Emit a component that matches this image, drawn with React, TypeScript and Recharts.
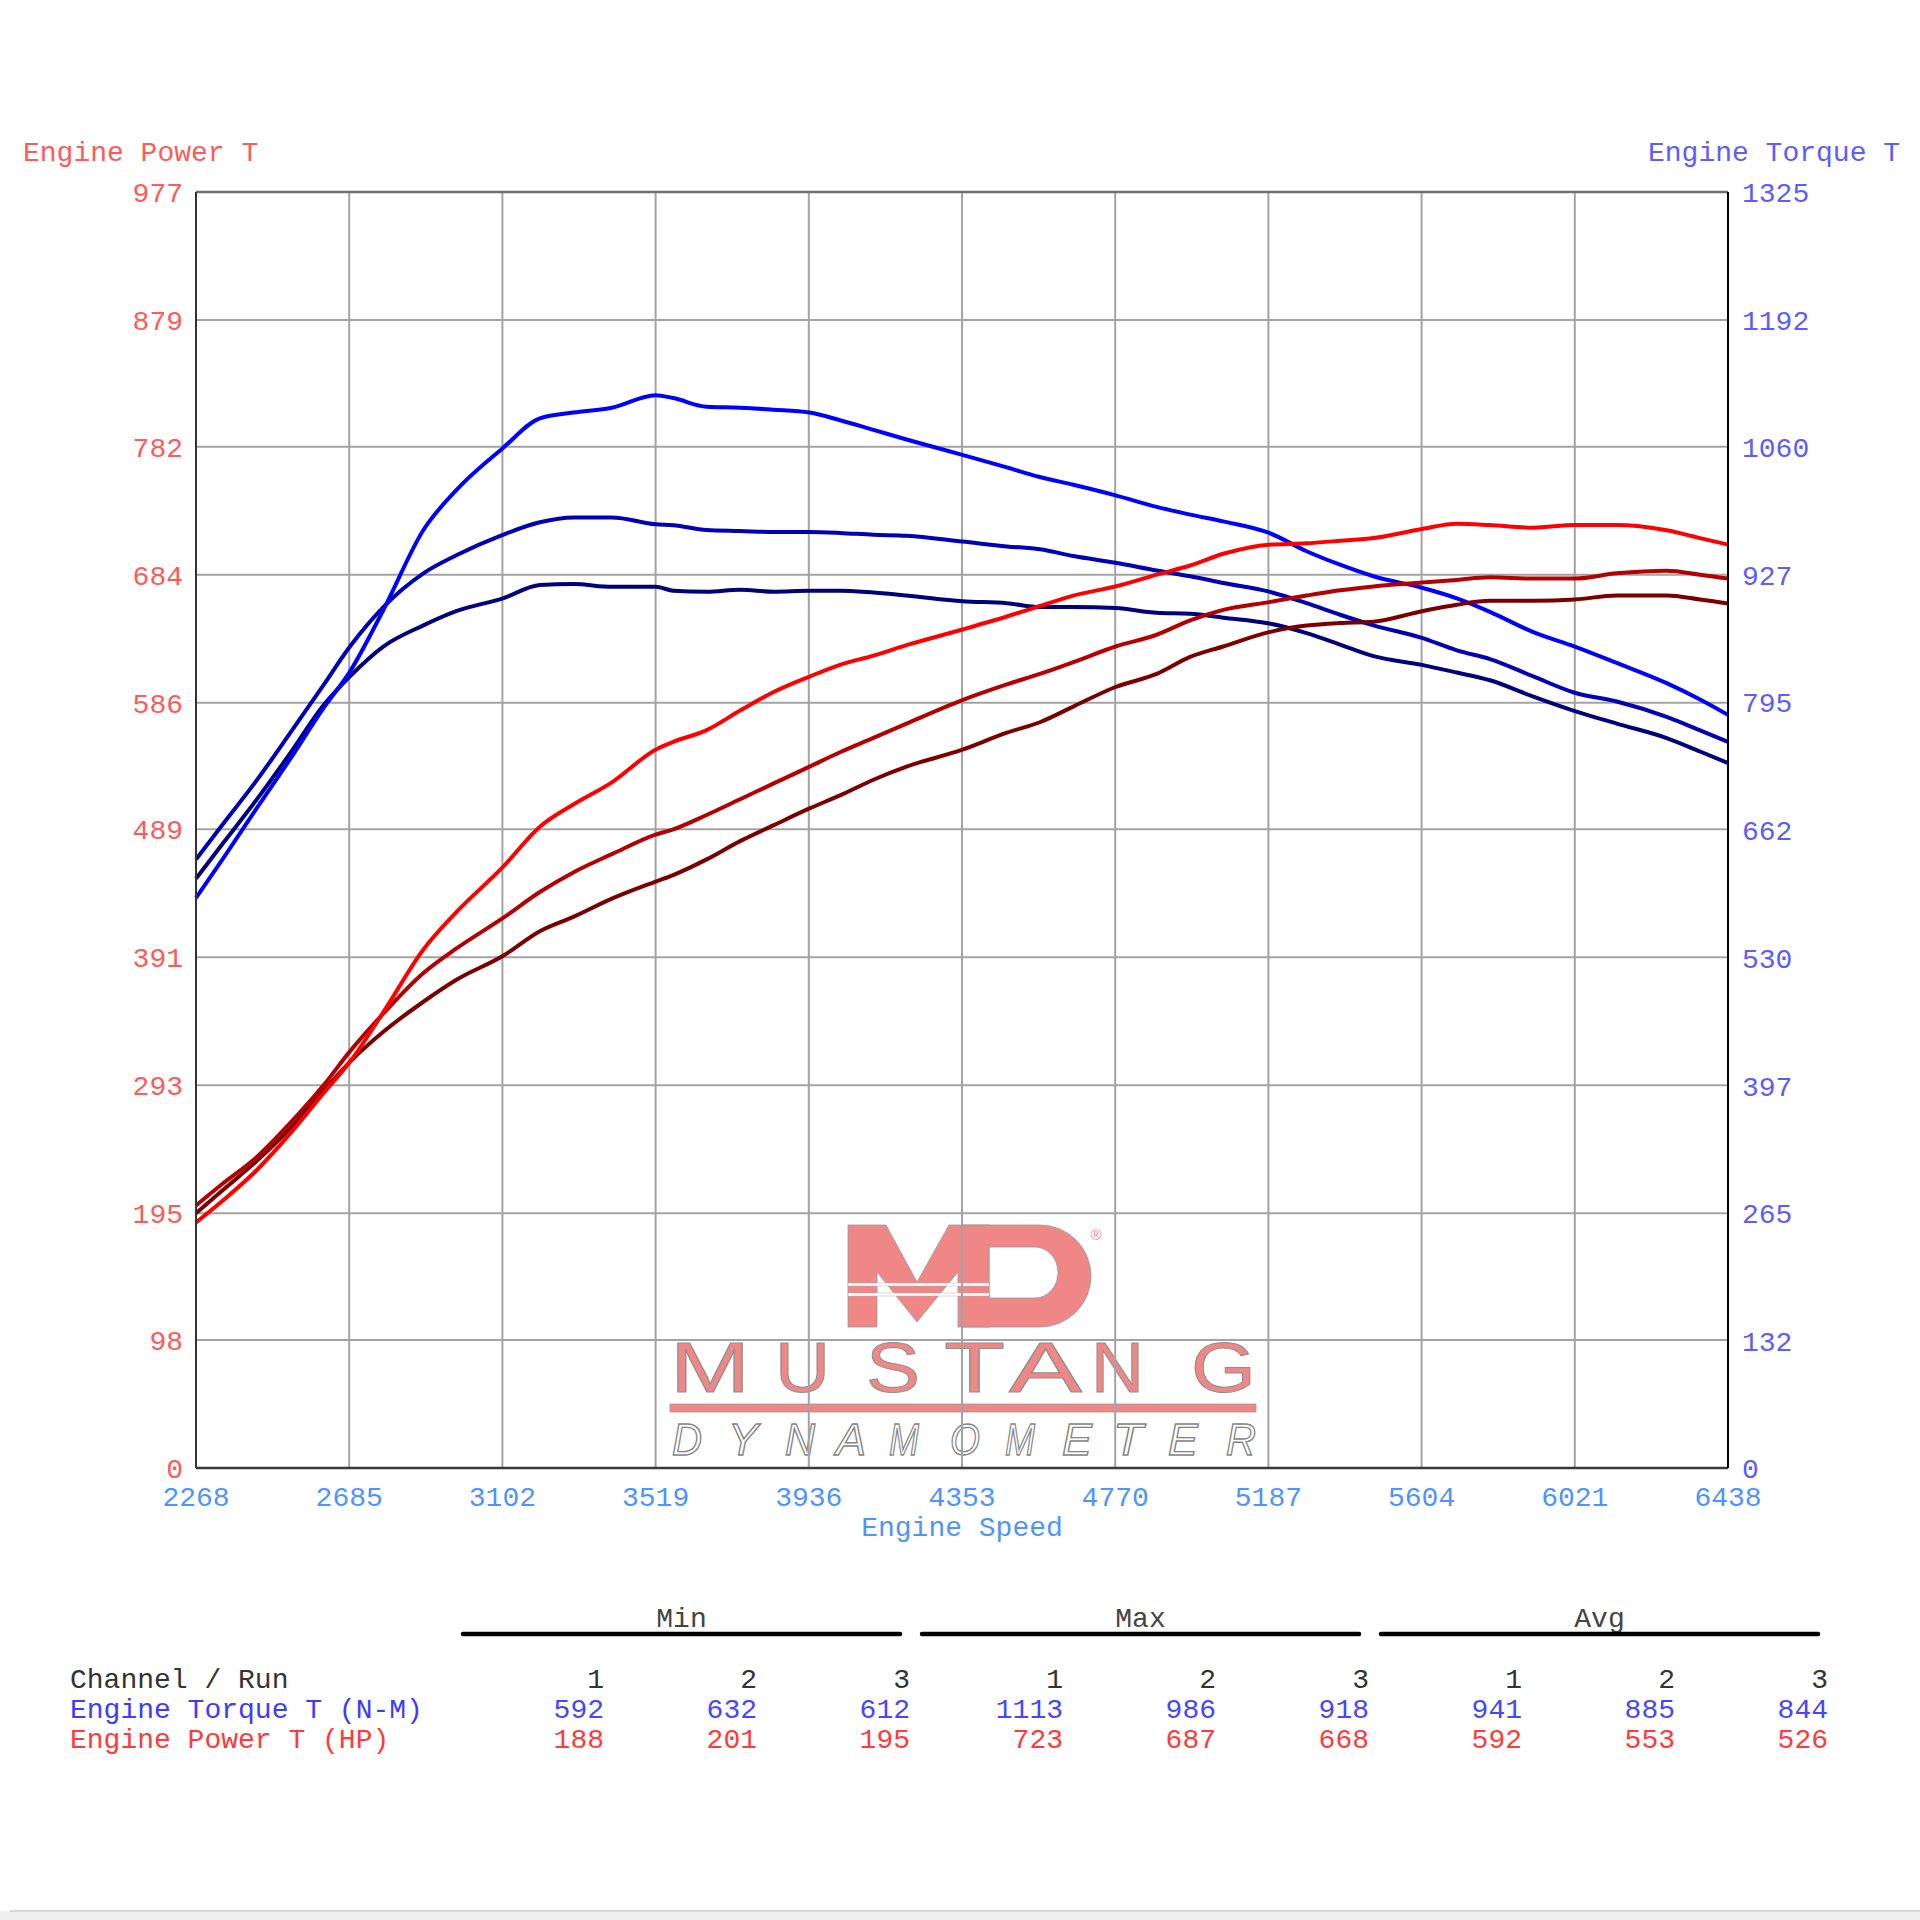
import React from 'react';
import { ComposedChart, Line, XAxis, YAxis, CartesianGrid, ReferenceLine } from 'recharts';

// ---------- data ----------
const rpm = [2268, 2342, 2433, 2524, 2615, 2687, 2778, 2887, 2978, 3103, 3204, 3295, 3400, 3519, 3567, 3658, 3749, 3839, 3938, 4021, 4112, 4202, 4354, 4475, 4565, 4656, 4771, 4883, 4974, 5064, 5189, 5291, 5382, 5473, 5605, 5700, 5790, 5908, 6021, 6135, 6271, 6362, 6438];

const torqueRun1 = [592, 633, 685, 736, 789, 827, 891, 974, 1016, 1059, 1090, 1096, 1101, 1114, 1111, 1102, 1101, 1099, 1096, 1088, 1078, 1068, 1052, 1039, 1029, 1021, 1010, 998, 990, 983, 971, 952, 938, 926, 914, 903, 889, 868, 853, 836, 815, 798, 782];
const torqueRun2 = [632, 669, 714, 763, 813, 853, 894, 929, 948, 969, 982, 987, 987, 980, 979, 974, 973, 972, 972, 971, 969, 968, 962, 957, 954, 947, 940, 932, 926, 919, 910, 898, 886, 875, 862, 849, 840, 822, 805, 796, 780, 766, 754];
const torqueRun3 = [612, 649, 694, 742, 792, 822, 853, 875, 890, 903, 917, 918, 915, 915, 911, 910, 912, 910, 911, 911, 909, 906, 900, 898, 894, 894, 893, 888, 887, 883, 877, 867, 855, 843, 834, 826, 818, 801, 786, 773, 758, 744, 732];

const powerRun1 = [188, 205, 228, 256, 287, 311, 349, 397, 426, 460, 491, 508, 525, 550, 556, 565, 580, 594, 606, 615, 622, 630, 642, 652, 660, 668, 675, 684, 691, 700, 707, 708, 710, 712, 719, 723, 722, 720, 722, 722, 718, 712, 707];
const powerRun2 = [201, 218, 238, 264, 293, 319, 348, 379, 398, 421, 441, 456, 470, 485, 489, 500, 512, 524, 537, 548, 559, 570, 588, 600, 608, 617, 629, 638, 649, 657, 663, 668, 672, 675, 678, 680, 682, 681, 681, 685, 687, 684, 681];
const powerRun3 = [195, 213, 235, 260, 289, 311, 334, 357, 374, 392, 411, 422, 436, 449, 454, 466, 480, 492, 505, 515, 527, 537, 550, 563, 571, 583, 598, 608, 621, 629, 640, 645, 647, 648, 656, 661, 664, 664, 665, 668, 668, 665, 662];

const speedTicks = [2268, 2685, 3102, 3519, 3936, 4353, 4770, 5187, 5604, 6021, 6438];
const powerTicks = [0, 98, 195, 293, 391, 489, 586, 684, 782, 879, 977];
const torqueTicks = [0, 132, 265, 397, 530, 662, 795, 927, 1060, 1192, 1325];

const statGroups = ['Min', 'Max', 'Avg'];
const runLabels = ['1', '2', '3'];
const torqueMin = [592, 632, 612];
const torqueMax = [1113, 986, 918];
const torqueAvg = [941, 885, 844];
const powerMin = [188, 201, 195];
const powerMax = [723, 687, 668];
const powerAvg = [592, 553, 526];

const data = rpm.map((r, i) => ({
  rpm: r,
  t1: torqueRun1[i],
  t2: torqueRun2[i],
  t3: torqueRun3[i],
  p1: powerRun1[i],
  p2: powerRun2[i],
  p3: powerRun3[i],
}));

// ---------- styles ----------
const MONO = '"Liberation Mono", "Courier New", monospace';
const RED_TXT = '#ff5a5a';
const BLUE_TXT = '#5c5cff';
const XBLUE_TXT = '#4d94ff';
const LOGO_PINK = '#ef8787';
const LW = 4;

const mustangLetters: [string, number, number][] = [
  ['M', 670, 80], ['U', 775, 55], ['S', 866, 54], ['T', 944, 61], ['A', 1009, 73], ['N', 1091, 53], ['G', 1191, 65],
];
const dynoLetters: [string, number][] = [
  ['D', 672], ['Y', 728], ['N', 785], ['A', 836], ['M', 889], ['O', 950], ['M', 1005], ['E', 1062], ['T', 1113], ['E', 1168], ['R', 1226],
];

function Logo() {
  return (
    <svg width={1920} height={1920} style={{ position: 'absolute', left: 0, top: 0 }}>
      <polygon
        points="848,1327 848,1225 886,1225 917,1282 949,1225 989,1225 989,1327 958,1327 958,1272 917,1322 877,1272 877,1327"
        fill={LOGO_PINK} stroke="#9a9a9a" strokeWidth={0.8}
      />
      <path
        d="M962,1225 H1040 A51,51 0 0 1 1040,1327 H962 Z M989,1247 H1035 A23,25.5 0 0 1 1035,1298 H989 Z"
        fill={LOGO_PINK} fillRule="evenodd" stroke="#9a9a9a" strokeWidth={0.8}
      />
      <rect x={848} y={1283} width={141} height={3} fill="#ffffff" stroke="#b0b0b0" strokeWidth={0.5} />
      <rect x={848} y={1293} width={141} height={3} fill="#ffffff" stroke="#b0b0b0" strokeWidth={0.5} />
      <text x={1096} y={1240} fontSize={15} textAnchor="middle" fill={LOGO_PINK} fontFamily="Liberation Sans">®</text>
      {mustangLetters.map(([ch, x, w], i) => (
        <text key={i} x={x} y={1392} fontSize={70} fontFamily='"Liberation Sans", Arial, sans-serif'
          textLength={w} lengthAdjust="spacingAndGlyphs" fill={LOGO_PINK} stroke="#8f8f8f" strokeWidth={1}>
          {ch}
        </text>
      ))}
      <rect x={670} y={1404} width={586} height={8} fill={LOGO_PINK} stroke="#9a9a9a" strokeWidth={0.8} />
      {dynoLetters.map(([ch, x], i) => (
        <text key={i} x={x} y={1455} fontSize={45} fontStyle="italic" fontFamily='"Liberation Sans", Arial, sans-serif'
          textLength={30} lengthAdjust="spacingAndGlyphs" fill="#ffffff" stroke="#858585" strokeWidth={1.4}>
          {ch}
        </text>
      ))}
    </svg>
  );
}

function Texts() {
  const colX = (k: number) => 604 + 153 * k;
  const rowVals = (vals: number[][], y: number, color: string) =>
    vals.flat().map((v, k) => (
      <text key={`${y}-${k}`} x={colX(k)} y={y} textAnchor="end" fill={color} fontSize={28} fontFamily={MONO}>{v}</text>
    ));
  return (
    <svg width={1920} height={1920} style={{ position: 'absolute', left: 0, top: 0, pointerEvents: 'none' }}>
      <text x={23} y={161} fill={RED_TXT} fontSize={28} fontFamily={MONO}>Engine Power T</text>
      <text x={1648} y={161} fill={BLUE_TXT} fontSize={28} fontFamily={MONO}>Engine Torque T</text>
      <text x={962} y={1536} textAnchor="middle" fill={XBLUE_TXT} fontSize={28} fontFamily={MONO}>Engine Speed</text>

      {statGroups.map((g, i) => {
        const x0 = 463 + 459 * i;
        const x1 = x0 + 437;
        return (
          <g key={g}>
            <text x={(x0 + x1) / 2} y={1627} textAnchor="middle" fill="#444" fontSize={28} fontFamily={MONO}>{g}</text>
            <line x1={x0} x2={x1} y1={1634} y2={1634} stroke="#000" strokeWidth={4.5} strokeLinecap="round" />
          </g>
        );
      })}

      <text x={70} y={1688} fill="#333" fontSize={28} fontFamily={MONO}>Channel / Run</text>
      {[0, 1, 2].flatMap((g) => runLabels.map((r, j) => (
        <text key={`h${g}${j}`} x={colX(g * 3 + j)} y={1688} textAnchor="end" fill="#333" fontSize={28} fontFamily={MONO}>{r}</text>
      )))}

      <text x={70} y={1718} fill="#3c3cff" fontSize={28} fontFamily={MONO}>Engine Torque T (N-M)</text>
      {rowVals([torqueMin, torqueMax, torqueAvg], 1718, '#4646ff')}
      <text x={70} y={1748} fill="#ff3a3a" fontSize={28} fontFamily={MONO}>Engine Power T (HP)</text>
      {rowVals([powerMin, powerMax, powerAvg], 1748, '#ff3a3a')}

      <rect x={0} y={1911} width={1920} height={9} fill="#efefef" />
      <line x1={10} x2={1920} y1={1911} y2={1911} stroke="#d6d6d6" strokeWidth={2} />
    </svg>
  );
}

export default function App() {
  return (
    <div style={{ position: 'absolute', left: 0, top: 0, width: 1920, height: 1920, background: '#ffffff', overflow: 'hidden' }}>
      <Logo />
      <div style={{ position: 'absolute', left: 0, top: 0 }}>
        <ComposedChart width={1920} height={1920} data={data} margin={{ top: 192, right: 92, bottom: 392, left: 96 }}>
          <CartesianGrid yAxisId="power" stroke="#a3a3a3" strokeWidth={2} />
          <XAxis
            dataKey="rpm" type="number" domain={[2268, 6438]} ticks={speedTicks} interval={0}
            height={60} tickSize={0} tickMargin={18}
            axisLine={{ stroke: '#3a3a3a', strokeWidth: 2.5 }}
            tick={{ fill: XBLUE_TXT, fontSize: 28, fontFamily: MONO }}
          />
          <YAxis
            yAxisId="power" orientation="left" domain={[0, 977]} ticks={powerTicks} interval={0}
            width={100} tickSize={0} tickMargin={13} allowDataOverflow
            axisLine={{ stroke: '#333', strokeWidth: 2 }}
            tick={{ fill: RED_TXT, fontSize: 28, fontFamily: MONO }}
          />
          <YAxis
            yAxisId="torque" orientation="right" domain={[0, 1325]} ticks={torqueTicks} interval={0}
            width={100} tickSize={0} tickMargin={14} allowDataOverflow
            axisLine={{ stroke: '#000', strokeWidth: 2 }}
            tick={{ fill: BLUE_TXT, fontSize: 28, fontFamily: MONO }}
          />
          <ReferenceLine yAxisId="power" y={977} stroke="#707070" strokeWidth={2.5} ifOverflow="visible" />

          <Line yAxisId="torque" dataKey="t3" type="monotone" stroke="#00007a" strokeWidth={LW} dot={false} isAnimationActive={false} />
          <Line yAxisId="torque" dataKey="t2" type="monotone" stroke="#0000b4" strokeWidth={LW} dot={false} isAnimationActive={false} />
          <Line yAxisId="torque" dataKey="t1" type="monotone" stroke="#0000ff" strokeWidth={LW} dot={false} isAnimationActive={false} />
          <Line yAxisId="power" dataKey="p3" type="monotone" stroke="#7a0000" strokeWidth={LW} dot={false} isAnimationActive={false} />
          <Line yAxisId="power" dataKey="p2" type="monotone" stroke="#b40000" strokeWidth={LW} dot={false} isAnimationActive={false} />
          <Line yAxisId="power" dataKey="p1" type="monotone" stroke="#ff0000" strokeWidth={LW} dot={false} isAnimationActive={false} />
        </ComposedChart>
      </div>
      <Texts />
    </div>
  );
}
